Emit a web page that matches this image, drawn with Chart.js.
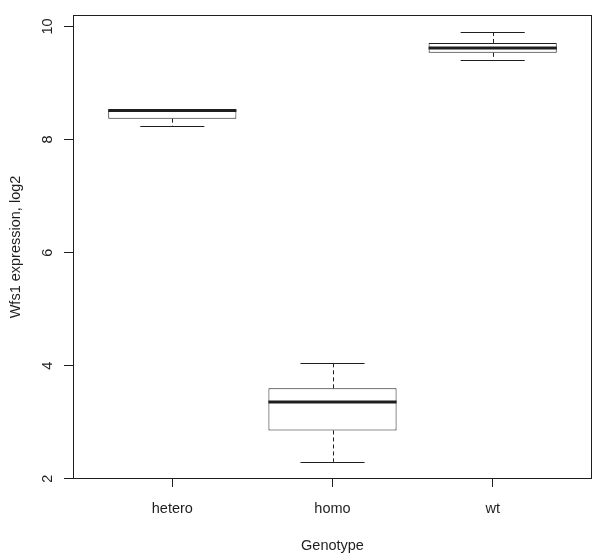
<!DOCTYPE html>
<html lang="en">

<head>
    <meta charset="UTF-8">
    <title>Wfs1 expression by genotype</title>
    <script src="https://cdn.jsdelivr.net/npm/chart.js"></script>
    <style>
        body { margin: 0; background: #fff; }
        #wrap { width: 600px; height: 560px; }
    </style>
</head>

<body>
    <div id="wrap"><canvas id="boxChart" width="600" height="560"></canvas></div>
    <script>
        // boxplot stats
        const genotypes = ['hetero', 'homo', 'wt'];
        const positions = [1, 2, 3];
        const lowerWhisker = [8.235, 2.30, 9.415];
        const lowerQuartile = [8.37, 2.855, 9.535];
        const medians = [8.515, 3.36, 9.62];
        const upperQuartile = [8.53, 3.60, 9.71];
        const upperWhisker = [8.53, 4.05, 9.90];
        const yTicks = [2, 4, 6, 8, 10];

        const font = { family: "'Liberation Sans', Arial, sans-serif", size: 14.5 };
        const ink = '#1e1e1e';

        const boxExtras = {
            id: 'boxExtras',
            afterDatasetsDraw(chart) {
                const ctx = chart.ctx;
                const xs = chart.scales.x;
                const ys = chart.scales.y;
                ctx.save();
                ctx.strokeStyle = ink;
                positions.forEach((p, i) => {
                    const cx = Math.round(xs.getPixelForValue(p)) + 0.5;
                    const capL = xs.getPixelForValue(p - 0.2);
                    const capR = xs.getPixelForValue(p + 0.2);
                    const boxL = xs.getPixelForValue(p - 0.4);
                    const boxR = xs.getPixelForValue(p + 0.4);

                    // whiskers (dashed)
                    ctx.lineWidth = 1;
                    ctx.setLineDash([4, 3]);
                    ctx.beginPath();
                    ctx.moveTo(cx, ys.getPixelForValue(upperQuartile[i]));
                    ctx.lineTo(cx, ys.getPixelForValue(upperWhisker[i]));
                    ctx.moveTo(cx, ys.getPixelForValue(lowerQuartile[i]));
                    ctx.lineTo(cx, ys.getPixelForValue(lowerWhisker[i]));
                    ctx.stroke();

                    // caps
                    ctx.setLineDash([]);
                    ctx.beginPath();
                    let yy = Math.round(ys.getPixelForValue(upperWhisker[i])) + 0.5;
                    ctx.moveTo(capL, yy);
                    ctx.lineTo(capR, yy);
                    yy = Math.round(ys.getPixelForValue(lowerWhisker[i])) + 0.5;
                    ctx.moveTo(capL, yy);
                    ctx.lineTo(capR, yy);
                    ctx.stroke();

                    // median
                    ctx.lineWidth = 3;
                    ctx.beginPath();
                    yy = ys.getPixelForValue(medians[i]);
                    ctx.moveTo(boxL, yy);
                    ctx.lineTo(boxR, yy);
                    ctx.stroke();
                });
                ctx.restore();
            },
            afterDraw(chart) {
                const ctx = chart.ctx;
                const a = chart.chartArea;
                const ys = chart.scales.y;
                ctx.save();
                // frame round the plot region
                ctx.strokeStyle = ink;
                ctx.lineWidth = 1;
                ctx.strokeRect(Math.round(a.left) + 0.5, Math.round(a.top) + 0.5,
                    Math.round(a.right - a.left) - 1, Math.round(a.bottom - a.top) - 1);
                // y tick labels, parallel to the axis like R does
                ctx.fillStyle = ink;
                ctx.font = font.size + 'px ' + font.family;
                ctx.textAlign = 'center';
                ctx.textBaseline = 'middle';
                yTicks.forEach(v => {
                    ctx.save();
                    ctx.translate(48, ys.getPixelForValue(v));
                    ctx.rotate(-Math.PI / 2);
                    ctx.fillText(String(v), 0, 0);
                    ctx.restore();
                });
                ctx.restore();
            }
        };

        const ctx = document.getElementById('boxChart').getContext('2d');
        new Chart(ctx, {
            type: 'bar',
            data: {
                datasets: [{
                    data: positions.map((p, i) => ({ x: p, y: [lowerQuartile[i], upperQuartile[i]] })),
                    backgroundColor: '#ffffff',
                    borderColor: ink,
                    borderWidth: 1,
                    borderSkipped: false,
                    categoryPercentage: 1,
                    barPercentage: 0.8
                }]
            },
            options: {
                responsive: false,
                animation: false,
                layout: { padding: { top: 15, right: 8, left: 0, bottom: 0 } },
                plugins: {
                    legend: { display: false },
                    tooltip: { enabled: false }
                },
                scales: {
                    x: {
                        type: 'linear',
                        min: 0.38,
                        max: 3.62,
                        offset: false,
                        afterBuildTicks: s => { s.ticks = positions.map(v => ({ value: v })); },
                        afterFit: s => { s.height = 81; },
                        ticks: {
                            color: ink,
                            font: font,
                            padding: 13,
                            maxRotation: 0,
                            callback: v => genotypes[positions.indexOf(v)]
                        },
                        grid: {
                            offset: false,
                            drawOnChartArea: false,
                            color: ink,
                            tickLength: 8
                        },
                        border: { display: false },
                        title: {
                            display: true,
                            text: 'Genotype',
                            color: ink,
                            font: font,
                            padding: { top: 0, bottom: 5 }
                        }
                    },
                    y: {
                        min: 1.996,
                        max: 10.204,
                        afterBuildTicks: s => { s.ticks = yTicks.map(v => ({ value: v })); },
                        afterFit: s => { s.width = 73; },
                        ticks: { display: false },
                        grid: {
                            drawOnChartArea: false,
                            color: ink,
                            tickLength: 9
                        },
                        border: { display: false },
                        title: {
                            display: true,
                            text: 'Wfs1 expression, log2',
                            color: ink,
                            font: font,
                            padding: { top: 7, bottom: 0 }
                        }
                    }
                }
            },
            plugins: [boxExtras]
        });
    </script>
</body>

</html>
